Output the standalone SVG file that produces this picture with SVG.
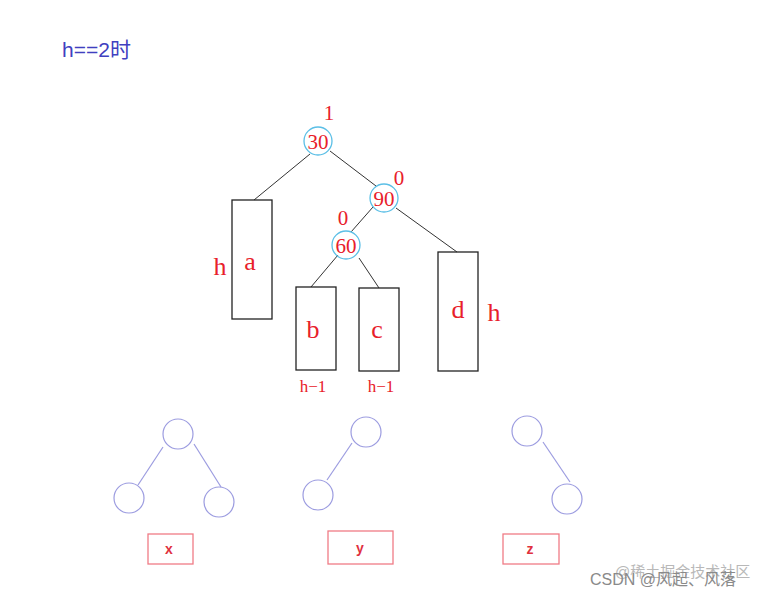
<svg xmlns="http://www.w3.org/2000/svg" width="777" height="597" viewBox="0 0 777 597">
<style>
.tc{fill:none;stroke:#5bbfe6;stroke-width:1.3}
.bx{fill:none;stroke:#222;stroke-width:1.3}
.ln{stroke:#333;stroke-width:1}
.rt{font-family:"Liberation Serif","DejaVu Serif",serif;fill:#e8202a;text-anchor:middle}
.pc{fill:none;stroke:#9c9ce0;stroke-width:1.2}
.pl{stroke:#9c9ce0;stroke-width:1.2}
.pb{fill:none;stroke:#f07c86;stroke-width:1.3}
.pt{font-family:"Liberation Sans",Arial,sans-serif;font-size:14px;fill:#e0303e;text-anchor:middle;font-weight:bold}
</style>
<rect width="777" height="597" fill="#fff"/>
<text x="62" y="57" font-family="'Liberation Sans','Noto Sans CJK SC',sans-serif" font-size="21" fill="#4040c0">h==2时</text>
<g id="connectors">
<line class="ln" x1="310" y1="154" x2="254" y2="200"/>
<line class="ln" x1="330" y1="151" x2="376" y2="186"/>
<line class="ln" x1="373" y1="207" x2="351" y2="232"/>
<line class="ln" x1="396" y1="208" x2="457" y2="252"/>
<line class="ln" x1="338" y1="255" x2="311" y2="287"/>
<line class="ln" x1="359" y1="258" x2="379" y2="288"/>
<line class="pl" x1="163" y1="447" x2="138" y2="485"/>
<line class="pl" x1="194" y1="444" x2="221" y2="487"/>
<line class="pl" x1="352" y1="443" x2="327" y2="480"/>
<line class="pl" x1="543" y1="442" x2="570" y2="482"/>
</g>
<g id="n30"><circle class="tc" cx="318" cy="141" r="14"/><text class="rt" x="318" y="149" font-size="21">30</text><text class="rt" x="329" y="120" font-size="21">1</text></g>
<g id="n90"><circle class="tc" cx="384" cy="198" r="14"/><text class="rt" x="384" y="206" font-size="21">90</text><text class="rt" x="399" y="185" font-size="21">0</text></g>
<g id="n60"><circle class="tc" cx="346" cy="245" r="14"/><text class="rt" x="346" y="253" font-size="21">60</text><text class="rt" x="343" y="225" font-size="21">0</text></g>
<g id="a"><rect class="bx" x="232" y="200" width="40" height="119"/><text class="rt" x="250" y="270" font-size="26">a</text><text class="rt" x="220" y="275" font-size="26">h</text></g>
<g id="b"><rect class="bx" x="296" y="287" width="40" height="83"/><text class="rt" x="313" y="338" font-size="26">b</text><text class="rt" x="313" y="392" font-size="17">h−1</text></g>
<g id="c"><rect class="bx" x="359" y="288" width="40" height="83"/><text class="rt" x="377" y="338" font-size="26">c</text><text class="rt" x="381" y="392" font-size="17">h−1</text></g>
<g id="d"><rect class="bx" x="438" y="252" width="40" height="119"/><text class="rt" x="458" y="318" font-size="26">d</text><text class="rt" x="494" y="321" font-size="26">h</text></g>
<g id="tx"><circle class="pc" cx="178" cy="434" r="15"/><circle class="pc" cx="129" cy="498" r="15"/><circle class="pc" cx="219" cy="502" r="15"/><rect class="pb" x="148" y="534" width="45" height="30"/><text class="pt" x="169" y="554">x</text></g>
<g id="ty"><circle class="pc" cx="366" cy="432" r="15"/><circle class="pc" cx="318" cy="495" r="15"/><rect class="pb" x="328" y="531" width="65" height="33"/><text class="pt" x="360" y="553">y</text></g>
<g id="tz"><circle class="pc" cx="527" cy="431" r="15"/><circle class="pc" cx="567" cy="499" r="15"/><rect class="pb" x="503" y="534" width="56" height="30"/><text class="pt" x="530" y="554">z</text></g>
<text x="615" y="577" font-family="'Liberation Sans','Noto Sans CJK SC',sans-serif" font-size="15" fill="#b8b8b8">@稀土掘金技术社区</text>
<text x="590" y="585" font-family="'Liberation Sans','Noto Sans CJK SC',sans-serif" font-size="16" fill="#8a8a8a">CSDN @风起、风落</text>
</svg>
